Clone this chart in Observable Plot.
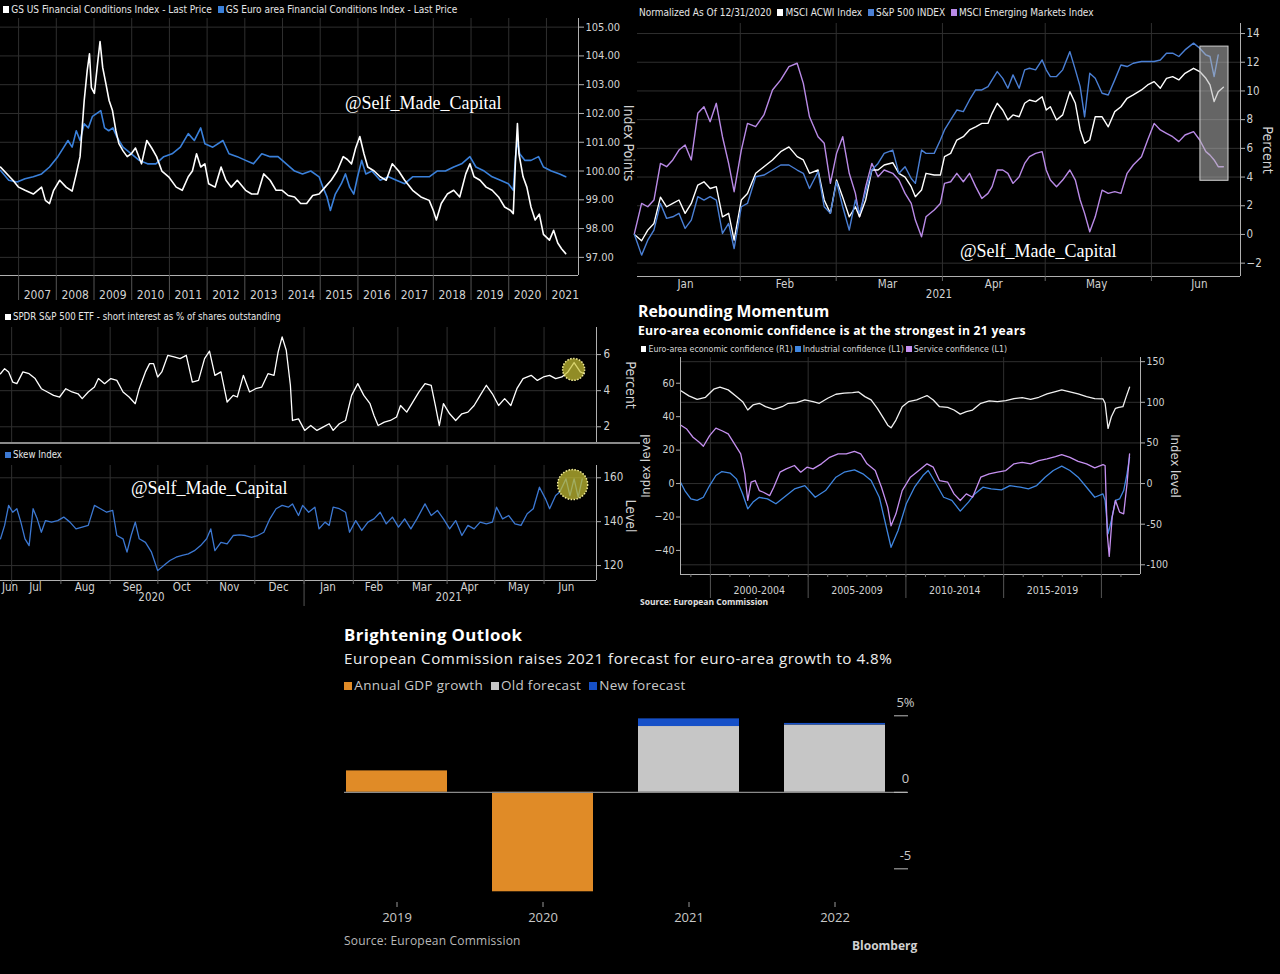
<!DOCTYPE html>
<html>
<head>
<meta charset="utf-8">
<script src="https://cdn.jsdelivr.net/npm/d3@7"></script>
<script src="https://cdn.jsdelivr.net/npm/@observablehq/plot@0.6"></script>
<style>
  html, body { margin: 0; padding: 0; background: #000; }
  #root { position: relative; width: 1280px; height: 974px; background: #000; overflow: hidden; }
  .t { position: absolute; white-space: nowrap; line-height: 1; }
  .n { font-family: "Liberation Sans Narrow", "DejaVu Sans Condensed", "Arial Narrow", sans-serif; }
  .s { font-family: "Open Sans", "Noto Sans", sans-serif; }
  .sq { display: inline-block; width: 0.62em; height: 0.62em; margin-right: 2px; }
  .wm { font-family: "Liberation Serif", "DejaVu Serif", serif; color: #fff; font-size: 18px; }
  .chart { position: absolute; }
  .chart svg { display: block; overflow: visible; }
</style>
</head>
<body>
<div id="root"></div>
<script>
// ---------------- DATA ----------------
// Panel 1: Goldman Sachs financial conditions indices (decimal years)
const usFciYear = [2006.52,2006.85,2007.00,2007.17,2007.39,2007.61,2007.71,2007.82,2007.93,2008.09,2008.26,2008.42,2008.53,2008.63,2008.74,2008.82,2008.88,2008.93,2009.01,2009.10,2009.16,2009.23,2009.32,2009.40,2009.49,2009.58,2009.66,2009.77,2009.88,2009.99,2010.10,2010.26,2010.40,2010.53,2010.66,2010.80,2010.98,2011.18,2011.34,2011.50,2011.61,2011.72,2011.83,2011.94,2012.04,2012.21,2012.37,2012.50,2012.64,2012.80,2013.02,2013.18,2013.34,2013.50,2013.67,2013.83,2013.99,2014.15,2014.32,2014.48,2014.64,2014.80,2014.97,2015.13,2015.29,2015.45,2015.61,2015.72,2015.83,2015.94,2016.05,2016.16,2016.26,2016.43,2016.59,2016.75,2016.91,2017.08,2017.24,2017.45,2017.67,2017.89,2018.00,2018.08,2018.21,2018.37,2018.54,2018.70,2018.86,2018.97,2019.08,2019.24,2019.40,2019.56,2019.73,2019.89,2020.05,2020.12,2020.18,2020.23,2020.27,2020.38,2020.48,2020.59,2020.70,2020.81,2020.92,2021.08,2021.19,2021.30,2021.40,2021.51];
const usFci = [100.14,99.68,99.44,99.33,99.2,99.44,98.98,98.87,99.33,99.68,99.44,99.3,99.9,100.5,102.45,103.5,104.07,102.9,102.7,103.8,104.5,103.6,103.0,102.45,102.1,101.4,100.95,100.7,100.5,100.6,100.8,100.25,101.06,100.8,100.5,100.0,99.8,99.44,99.33,99.8,100.0,100.6,100.14,100.25,99.56,99.44,100.14,99.68,99.44,99.68,99.33,99.2,99.2,99.9,99.68,99.33,99.33,99.15,99.1,98.87,98.87,99.15,99.2,99.44,99.68,100.0,100.5,100.4,100.25,100.8,101.2,100.6,100.14,100.0,99.8,99.68,100.25,100.0,99.68,99.33,99.1,98.98,98.63,98.3,98.87,99.2,99.33,99.1,99.9,100.25,99.8,99.68,99.44,99.33,99.1,98.75,98.63,98.52,100.4,101.65,100.6,99.8,99.44,98.75,98.3,98.5,97.8,97.6,97.94,97.5,97.3,97.13];
const euFciYear = [2006.52,2006.74,2006.96,2007.17,2007.39,2007.61,2007.82,2008.04,2008.20,2008.31,2008.42,2008.53,2008.63,2008.74,2008.85,2008.96,2009.18,2009.28,2009.39,2009.50,2009.61,2009.77,2009.99,2010.20,2010.42,2010.64,2010.85,2011.07,2011.29,2011.50,2011.66,2011.83,2011.94,2012.15,2012.42,2012.58,2012.80,2013.02,2013.23,2013.45,2013.67,2013.88,2014.10,2014.32,2014.53,2014.75,2014.97,2015.07,2015.18,2015.27,2015.40,2015.56,2015.67,2015.78,2015.89,2015.99,2016.10,2016.21,2016.37,2016.59,2016.81,2017.02,2017.24,2017.45,2017.67,2017.89,2018.10,2018.32,2018.54,2018.75,2018.97,2019.13,2019.35,2019.56,2019.78,2019.99,2020.12,2020.18,2020.23,2020.29,2020.43,2020.59,2020.79,2020.92,2021.13,2021.35,2021.51];
const euFci = [100.02,99.68,99.62,99.73,99.8,99.9,100.14,100.5,100.83,101.06,100.83,101.4,101.06,101.64,101.5,101.9,102.1,101.5,101.4,101.5,101.18,100.83,100.6,100.37,100.25,100.25,100.5,100.6,100.83,101.3,101.06,101.5,100.95,100.83,101.06,100.6,100.5,100.37,100.25,100.6,100.5,100.5,100.25,100.0,99.9,100.0,99.8,99.44,99.1,98.63,99.2,99.56,99.9,99.44,99.2,99.8,100.37,99.9,100.0,99.68,99.8,99.68,99.56,99.8,99.8,99.8,100.0,100.0,100.14,100.25,100.5,100.14,100.0,99.8,99.68,99.56,99.33,100.5,101.06,100.6,100.37,100.37,100.5,100.14,100.0,99.9,99.8];
const fciTicks = [97,98,99,100,101,102,103,104,105];
const fciYearStarts = [2007,2008,2009,2010,2011,2012,2013,2014,2015,2016,2017,2018,2019,2020,2021];
const fciYearLabels = ["2007","2008","2009","2010","2011","2012","2013","2014","2015","2016","2017","2018","2019","2020","2021"];
const fciXDomain = [2006.52, 2021.85];
const fciYDomain = [96.37, 105.3];

// Panel 2: normalized equity indices, days after 2020-12-31
const p2Days = [1.1,3.2,5.0,6.8,8.7,10.5,12.3,14.1,15.9,17.7,19.6,21.4,23.2,25.0,26.8,28.6,30.2,32.3,34.1,36.5,38.9,41.4,43.8,46.2,48.6,50.4,52.2,54.7,56.5,58.3,60.1,61.9,63.8,65.6,66.8,68.6,70.4,72.2,74.0,76.5,78.3,80.1,81.9,83.1,84.9,86.2,88.6,90.4,91.6,93.4,95.2,97.1,98.9,100.7,102.5,104.3,105.5,107.0,108.6,110.1,111.6,113.4,115.0,116.4,118.2,120.1,121.3,122.5,124.3,126.1,128.2,129.8,131.2,132.5,134.0,135.6,137.6,139.4,141.3,143.1,144.9,146.7,149.1,150.9,152.8,154.6,156.4,158.2,160.0,161.8,164.3,166.1,167.9,169.1,170.3,171.5,173.0];
const acwiPct = [0,-0.44,0.3,0.77,2.6,1.93,2.16,2.4,1.47,2.16,3.44,3.67,3.2,3.33,1.23,1.47,-0.4,2.4,2.86,4.26,4.72,5.19,5.77,6.1,5.42,5.19,4.26,4.49,2.4,1.47,3.8,2.6,1.23,1.93,1.23,2.4,4.49,4.49,4.84,5.0,4.26,4.0,3.33,2.63,3.1,4.26,4.14,4.14,5.42,5.65,6.58,6.81,7.28,7.5,7.74,7.74,8.44,9.14,8.67,7.98,8.33,8.2,9.14,9.37,9.26,9.6,8.67,8.9,7.98,8.33,9.95,9.14,7.28,6.35,6.58,8.2,8.2,7.5,8.56,8.9,9.49,9.72,10.07,10.42,10.65,10.19,10.88,11.0,10.77,11.23,11.58,11.35,10.88,10.42,9.26,9.95,10.26];
const spxPct = [0,-1.44,-0.4,0.3,2.16,1.12,1.23,1.47,0.42,1.0,2.63,2.4,2.63,2.4,0.07,0.77,-0.98,1.93,2.16,4.02,4.14,4.49,4.84,4.84,4.49,4.26,3.2,4.37,1.93,1.47,3.67,1.93,0.3,2.4,1.47,2.98,4.49,4.95,5.65,5.88,4.26,4.72,3.9,3.56,5.88,5.65,5.65,6.58,7.28,7.98,8.67,8.56,9.37,10.07,10.07,10.3,10.77,11.35,10.88,10.19,11.12,10.19,11.47,11.58,11.47,12.16,11.47,11.0,11.0,11.47,12.74,11.47,10.3,8.2,11.23,10.88,9.84,9.72,10.77,11.81,11.7,11.93,12.05,12.05,12.05,12.16,12.63,12.63,12.4,12.86,13.33,12.98,12.51,12.4,11.0,12.51,null];
const emPct = [0.07,2.16,1.93,2.4,4.95,4.72,5.19,5.88,6.23,5.19,8.44,8.9,7.86,9.14,6.81,4.95,2.98,5.88,7.74,7.51,8.33,10.07,10.77,11.7,11.93,10.53,8.2,6.81,6.35,3.56,5.65,6.81,4.26,2.86,1.23,3.33,4.95,4.02,4.49,4.26,3.79,2.86,2.16,1.0,-0.16,1.23,1.7,2.16,3.56,3.67,4.26,3.67,4.26,3.33,2.51,2.86,3.33,4.49,4.49,4.26,3.56,4.02,4.95,5.42,5.65,5.77,4.49,3.79,3.33,3.79,4.49,3.79,2.4,1.47,0.19,1.23,3.09,2.86,2.98,2.86,4.26,4.84,5.42,6.58,7.74,7.28,7.05,6.81,6.47,6.93,7.16,6.58,5.77,5.53,5.19,4.72,4.72];
const p2Highlight = [{dayFrom: 166.3, dayTo: 174.5, low: 3.74, high: 13.09}];
const p2Ticks = [-2,0,2,4,6,8,10,12,14];
const p2MonthStarts = ["2021-02-01","2021-03-01","2021-04-01","2021-05-01","2021-06-01"];
const p2MonthMids = ["2021-01-16","2021-02-14","2021-03-16","2021-04-16","2021-05-16","2021-06-15"];
const p2XDomain = ["2021-01-02","2021-06-27"];
const p2YDomain = [-2.93, 14.7];

// Panel 3: SPDR short interest and Skew, days after 2020-06-24
const spdrDay = [0,2.6,5.1,7.7,10.3,14.1,18.0,21.8,25.7,29.5,33.4,37.2,41.1,45.0,48.8,51.4,55.2,59.1,61.6,65.5,69.4,73.2,77.1,80.9,84.8,87.3,91.2,93.8,96.3,98.9,101.5,105.3,109.2,113.0,116.9,120.7,124.6,128.4,131.5,134.9,138.7,142.6,146.4,149.0,152.8,156.7,160.5,164.4,168.3,172.1,174.7,177.2,179.8,182.4,183.7,187.5,191.4,195.2,199.1,202.9,206.8,209.3,213.2,217.1,220.9,224.8,228.6,232.5,235.0,237.6,241.5,245.3,249.2,251.7,255.6,259.4,263.3,267.1,271.0,273.6,276.1,278.7,282.6,286.4,290.3,294.1,298.0,301.8,305.7,309.5,313.4,317.2,321.1,324.9,328.8,333.9,337.8,341.6,345.5,349.3,353.2,357.0,360.9,364.8,367.3];
const spdrPct = [4.94,5.22,5.04,4.48,4.39,5.04,4.94,4.67,4.11,3.93,3.74,3.65,4.11,3.93,3.83,3.56,3.93,4.2,4.67,4.39,4.67,4.57,3.93,3.65,3.28,4.11,5.04,5.5,5.5,4.76,5.04,5.96,5.87,5.78,5.96,4.48,4.57,5.78,6.19,4.85,5.04,3.37,3.74,3.65,4.85,3.93,4.11,4.2,4.94,4.85,6.15,6.98,6.24,4.3,2.35,2.44,1.8,2.07,1.8,1.98,2.17,1.8,2.17,2.35,3.74,4.39,3.74,3.28,2.63,2.07,2.26,2.35,2.54,3.18,2.81,3.37,3.93,4.39,4.3,3.18,2.07,3.28,2.72,2.35,2.72,2.81,3.18,3.74,4.3,3.83,3.18,3.56,3.18,4.11,4.67,4.85,4.57,4.76,4.85,4.67,4.76,5.04,5.56,5.04,4.94];
const skewDay = [0,2.6,5.1,7.7,10.3,12.8,15.4,18.0,20.5,23.1,25.7,28.3,32.1,36.0,39.8,43.7,47.5,51.4,55.2,59.1,62.9,66.8,70.6,73.2,77.1,79.6,82.2,84.8,87.3,91.2,95.0,98.9,102.7,106.6,110.5,114.3,118.2,122.0,125.9,129.7,132.3,134.9,138.7,142.6,146.4,150.3,154.1,158.0,161.8,165.7,169.5,173.4,177.2,181.1,183.7,187.5,190.1,193.9,197.8,200.4,204.2,206.8,209.3,213.2,217.1,219.6,223.5,227.3,231.2,235.0,238.9,242.7,246.6,250.4,254.3,258.2,262.0,267.1,271.0,274.9,278.7,282.6,286.4,290.3,294.1,298.0,301.8,305.7,309.5,312.1,315.9,319.8,323.7,327.5,331.4,335.2,339.1,342.9,345.5,349.3,351.9,355.8,358.3,360.9,363.5,366.0];
const skewLevel = [132.2,138.3,147.4,144.3,145.9,139.8,132.2,129.1,145.9,141.3,135.2,140.5,139.8,140.5,142.1,139.8,136.7,137.5,138.3,147.4,145.9,144.3,145.1,133.7,132.2,126.1,133.7,139.8,132.2,130.6,126.1,117.7,120.0,122.3,123.8,124.6,125.3,126.8,129.1,132.2,136.7,126.8,130.6,129.9,133.7,134.0,133.7,132.9,133.7,135.2,141.3,145.9,147.4,146.6,148.1,142.8,147.4,144.3,146.6,136.7,139.8,138.3,146.6,145.9,144.3,135.2,140.5,136.0,139.8,141.3,144.3,139.0,142.1,137.5,141.3,136.7,141.3,148.1,142.8,145.1,141.3,136.7,140.5,133.7,138.3,136.7,139.8,139.0,139.8,146.6,141.3,142.8,139.0,138.3,143.6,145.9,155.7,150.4,145.9,151.9,153.5,159.5,151.9,159.5,151.2,159.5];
const spdrHighlight = [{day: 360.6, value: 5.18}];
const skewHighlight = [{day: 360.0, value: 156.9}];
const p3XDomain = ["2020-06-24","2021-07-04"];
const spdrYDomain = [1.13, 7.5];
const skewYDomain = [113.2, 165.6];
const spdrTicks = [2,4,6];
const skewTicks = [120,140,160];
const p3MonthStarts = ["2020-07-01","2020-08-01","2020-09-01","2020-10-01","2020-11-01","2020-12-01","2021-01-01","2021-02-01","2021-03-01","2021-04-01","2021-05-01","2021-06-01"];
const p3MonthMids = ["2020-06-30","2020-07-16","2020-08-16","2020-09-15","2020-10-16","2020-11-15","2020-12-16","2021-01-16","2021-02-14","2021-03-16","2021-04-15","2021-05-16","2021-06-15"];
const p3YearMarks = [{date: "2020-09-27", label: "2020"}, {date: "2021-04-02", label: "2021"}];
const p3YearBreak = ["2021-01-01"];

// Panel 4: euro-area confidence (decimal years)
const esiYear = [1998.47,1998.9,1999.32,1999.75,2000.17,2000.49,2000.91,2001.33,2001.65,2001.91,2002.18,2002.5,2002.82,2003.24,2003.67,2003.98,2004.41,2004.83,2005.25,2005.57,2006.0,2006.42,2006.84,2007.27,2007.58,2007.9,2008.22,2008.54,2008.86,2009.07,2009.24,2009.49,2009.81,2010.13,2010.55,2010.87,2011.08,2011.4,2011.72,2012.14,2012.46,2012.78,2013.09,2013.41,2013.83,2014.26,2014.68,2015.11,2015.53,2015.95,2016.38,2016.8,2017.22,2017.65,2017.97,2018.39,2018.81,2019.24,2019.66,2020.08,2020.19,2020.34,2020.51,2020.72,2020.89,2021.1,2021.27,2021.44];
const esiLevel = [114.5,107.9,103.7,106.2,116.1,118.6,115.3,107.0,100.8,90.5,96.7,98.8,94.6,91.3,94.6,98.8,99.6,102.9,100.8,98.8,105.0,109.9,111.2,112.0,112.8,107.0,102.9,92.6,80.2,71.9,68.6,78.1,94.6,100.8,102.9,106.2,108.3,102.9,94.6,93.8,90.5,85.5,88.4,90.5,98.8,101.7,100.8,102.1,104.5,105.8,103.7,106.2,110.3,113.2,115.3,112.8,110.3,107.0,104.5,104.1,98.8,67.8,82.2,92.6,93.8,94.6,107.0,118.6];
const indYear = [1998.47,1998.69,1999.00,1999.32,1999.64,1999.96,2000.28,2000.59,2001.02,2001.33,2001.65,2001.91,2002.18,2002.50,2002.92,2003.35,2003.77,2004.30,2004.83,2005.36,2005.89,2006.42,2006.84,2007.37,2007.80,2008.22,2008.64,2008.96,2009.24,2009.60,2010.02,2010.44,2010.87,2011.14,2011.50,2011.93,2012.35,2012.78,2013.20,2013.52,2013.94,2014.36,2014.89,2015.32,2015.85,2016.27,2016.69,2017.12,2017.54,2017.97,2018.39,2018.81,2019.24,2019.66,2020.08,2020.19,2020.34,2020.51,2020.72,2020.93,2021.14,2021.31,2021.44];
const indLevel = [0.8,-4.2,-9.2,-10.1,-8.2,-1.2,4.8,7.2,6.2,2.8,-6.2,-15.1,-11.1,-8.2,-9.2,-12.1,-8.2,-3.2,-1.2,-8.2,-4.2,3.8,6.8,8.2,5.8,1.8,-8.2,-24.1,-38.1,-28.1,-12.1,-2.2,4.8,7.8,0.8,-8.2,-10.1,-16.5,-11.1,-6.2,-2.2,-3.2,-3.8,-1.2,-2.2,-3.2,-1.2,3.8,7.8,10.4,7.8,3.8,-2.2,-8.2,-6.2,-10.1,-30.1,-22.1,-10.1,-9.2,-4.2,5.8,15.7];
const srvYear = [1998.47,1998.79,1999.11,1999.43,1999.64,1999.96,2000.28,2000.59,2000.91,2001.23,2001.55,2001.76,2001.91,2002.08,2002.29,2002.50,2002.71,2003.03,2003.24,2003.56,2003.88,2004.30,2004.62,2004.94,2005.25,2005.68,2006.10,2006.53,2006.95,2007.37,2007.69,2008.01,2008.43,2008.75,2009.07,2009.24,2009.49,2009.81,2010.23,2010.66,2011.08,2011.40,2011.72,2012.14,2012.46,2012.78,2013.09,2013.41,2013.83,2014.26,2014.68,2015.11,2015.53,2015.95,2016.38,2016.80,2017.22,2017.65,2017.97,2018.39,2018.81,2019.24,2019.66,2020.08,2020.19,2020.30,2020.40,2020.55,2020.72,2020.93,2021.14,2021.31,2021.44];
const srvLevel = [35.0,32.6,27.7,24.7,22.3,28.7,33.2,31.6,29.7,23.7,17.7,5.8,-10.1,0.8,1.8,-4.2,-5.2,-7.2,-2.2,6.8,8.8,10.8,6.8,9.8,8.8,11.8,15.7,17.7,17.7,19.3,17.7,11.8,7.8,-2.2,-14.1,-25.3,-18.1,-4.2,3.8,7.8,11.8,9.8,1.8,0.8,-6.2,-10.1,-6.2,-8.2,3.8,5.8,6.8,7.8,11.8,12.7,11.8,13.7,14.7,16.1,17.3,15.7,13.3,11.8,9.4,11.3,10.8,-30.1,-43.6,-20.1,-10.1,-17.1,-18.1,-0.2,17.7];
const confLeftTicks = [-40,-20,0,20,40,60];
const confRightTicks = [-100,-50,0,50,100,150];
const confPeriodStarts = [2000,2005,2010,2015,2020];
const confPeriodMids = [2002.5,2007.5,2012.5,2017.5];
const confPeriodLabels = ["2000-2004","2005-2009","2010-2014","2015-2019"];
const confYearTicks = [1999,2000,2001,2002,2003,2004,2005,2006,2007,2008,2009,2010,2011,2012,2013,2014,2015,2016,2017,2018,2019,2020,2021];
const confXDomain = [1998.47, 2022.0];
const confYDomain = [-54.4, 75.4];
const esiPerLeft = 0.486; // right-axis unit expressed in left-axis units

// Panel 5: euro-area GDP growth (%)
const gdpYears = ["2019","2020","2021","2022"];
const gdpActual = [1.4, -6.5, null, null];
const gdpOld = [null, null, 4.3, 4.4];
const gdpNew = [null, null, 4.8, 4.5];
const gdpTicks = [5, 0, -5];
const gdpTickText = ["5%", "0", "-5"];

// ---------------- HELPERS ----------------
const root = document.getElementById("root");
const FN = '"Liberation Sans Narrow","DejaVu Sans Condensed","Arial Narrow",sans-serif';
const FS = '"Open Sans","Noto Sans",sans-serif';
const GRID = "#2f2f2f";
const AXIS = "#b0b0b0";
const TXT = "#d2d2d2";
function put(svg, left, top, width) {
  const d = document.createElement("div");
  d.className = "chart";
  d.style.left = left + "px"; d.style.top = top + "px"; d.style.width = width + "px";
  d.appendChild(svg); root.appendChild(d);
}
function txt(html, left, cy, size, cls, color, weight, extra) {
  const d = document.createElement("div");
  d.className = "t " + cls;
  d.style.left = left + "px";
  d.style.top = (cy - size * 0.55) + "px";
  d.style.fontSize = size + "px";
  d.style.color = color;
  if (weight) d.style.fontWeight = weight;
  if (extra) Object.assign(d.style, extra);
  d.innerHTML = html;
  root.appendChild(d);
}
const sq = c => `<span class="sq" style="background:${c}"></span>`;
const utc = s => new Date(s + "T00:00:00Z");
const DAY = 864e5;
const base2 = Date.UTC(2020, 11, 31);
const base3 = Date.UTC(2020, 5, 24);
const blank = () => "";

// ---------------- PANEL 1 ----------------
const usRows = usFciYear.map((x, i) => ({x, y: usFci[i]})).filter(d => d.y != null);
const euRows = euFciYear.map((x, i) => ({x, y: euFci[i]})).filter(d => d.y != null);
put(Plot.plot({
  width: 640, height: 290, marginLeft: 0, marginRight: 62, marginTop: 0, marginBottom: 33,
  style: {background: "transparent", color: TXT, fontFamily: FN, fontSize: "11px"},
  x: {domain: fciXDomain},
  y: {domain: fciYDomain},
  marks: [
    Plot.gridY(fciTicks, {stroke: GRID, strokeOpacity: 1}),
    Plot.gridX(fciYearStarts, {stroke: GRID, strokeOpacity: 1}),
    Plot.line(euRows, {x: "x", y: "y", stroke: "#3a80da", strokeWidth: 1.6}),
    Plot.line(usRows, {x: "x", y: "y", stroke: "#ffffff", strokeWidth: 1.6}),
    Plot.ruleX([fciXDomain[1]], {stroke: AXIS}),
    Plot.ruleY([fciYDomain[0]], {stroke: AXIS}),
    Plot.axisY(fciTicks, {anchor: "right", tickSize: 5, tickPadding: 2, tickFormat: d => d.toFixed(2), label: null, stroke: AXIS}),
    Plot.axisX(fciYearStarts, {tickSize: 25, tickFormat: blank, label: null, stroke: "#555"}),
    Plot.axisX(fciYearStarts.map(y => y + 0.5), {tickSize: 0, tickPadding: 15, tickFormat: (d) => fciYearLabels[fciYearStarts.indexOf(d - 0.5)], label: null, fontSize: 12}),
    Plot.text(["Index Points"], {frameAnchor: "right", textAnchor: "middle", text: d => d, rotate: 90, dx: 50, dy: -4, fontSize: 14, fill: TXT})
  ]
}), 0, 18, 640);
txt(`${sq("#fff")}GS US Financial Conditions Index - Last Price&nbsp;&nbsp;${sq("#3a80da")}GS Euro area Financial Conditions Index - Last Price`, 3, 10, 10, "n", "#e6e6e6");
txt("@Self_Made_Capital", 345, 104, 18, "wm", "#fff");

// ---------------- PANEL 2 ----------------
const p2Rows = p2Days.map((d, i) => ({date: new Date(base2 + d * DAY), acwi: acwiPct[i], spx: spxPct[i], em: emPct[i]}));
put(Plot.plot({
  width: 650, height: 290, marginLeft: 7, marginRight: 40, marginTop: 5, marginBottom: 32,
  style: {background: "transparent", color: TXT, fontFamily: FN, fontSize: "11.5px"},
  x: {type: "utc", domain: p2XDomain.map(utc)},
  y: {domain: p2YDomain},
  marks: [
    Plot.gridY(p2Ticks, {stroke: GRID, strokeOpacity: 1}),
    Plot.gridX(p2MonthStarts.map(utc), {stroke: GRID, strokeOpacity: 1}),
    Plot.line(p2Rows, {x: "date", y: "em", stroke: "#b98ae6", strokeWidth: 1.4}),
    Plot.line(p2Rows, {x: "date", y: "acwi", stroke: "#ffffff", strokeWidth: 1.4}),
    Plot.line(p2Rows, {x: "date", y: "spx", stroke: "#4a7fd4", strokeWidth: 1.4}),
    Plot.rect(p2Highlight, {x1: d => new Date(base2 + d.dayFrom * DAY), x2: d => new Date(base2 + d.dayTo * DAY), y1: "low", y2: "high", fill: "#b8b8b8", fillOpacity: 0.55, stroke: "#d0d0d0", strokeWidth: 1}),
    Plot.ruleX([utc(p2XDomain[1])], {stroke: AXIS}),
    Plot.ruleY([p2YDomain[0]], {stroke: AXIS}),
    Plot.axisY(p2Ticks, {anchor: "right", tickSize: 4, tickPadding: 2, label: null, stroke: AXIS}),
    Plot.axisX(p2MonthStarts.map(utc), {tickSize: 5, tickFormat: blank, label: null, stroke: "#666"}),
    Plot.axisX(p2MonthMids.map(utc), {tickSize: 0, tickPadding: 3, tickFormat: d3.utcFormat("%b"), label: null}),
    Plot.text(["2021"], {frameAnchor: "bottom", text: d => d, dy: 21, fill: TXT, fontSize: 11.5}),
    Plot.text(["Percent"], {frameAnchor: "right", textAnchor: "middle", text: d => d, rotate: 90, dx: 27, fontSize: 14, fill: TXT})
  ]
}), 630, 18, 650);
txt(`Normalized As Of 12/31/2020&nbsp;&nbsp;${sq("#fff")}MSCI ACWI Index&nbsp;&nbsp;${sq("#4a7fd4")}S&amp;P 500 INDEX&nbsp;&nbsp;${sq("#b98ae6")}MSCI Emerging Markets Index`, 639, 13, 10, "n", "#e6e6e6");
txt("@Self_Made_Capital", 960, 252, 18, "wm", "#fff");

// ---------------- PANEL 3 ----------------
const spdrRows = spdrDay.map((d, i) => ({date: new Date(base3 + d * DAY), v: spdrPct[i]}));
const skewRows = skewDay.map((d, i) => ({date: new Date(base3 + d * DAY), v: skewLevel[i]}));
put(Plot.plot({
  width: 640, height: 125, marginLeft: 0, marginRight: 44, marginTop: 7, marginBottom: 3,
  style: {background: "transparent", color: TXT, fontFamily: FN, fontSize: "11.5px"},
  x: {type: "utc", domain: p3XDomain.map(utc), axis: null}, y: {domain: spdrYDomain},
  marks: [
    Plot.gridY(spdrTicks, {stroke: GRID, strokeOpacity: 1}),
    Plot.gridX(p3MonthStarts.map(utc), {stroke: GRID, strokeOpacity: 1}),
    Plot.line(spdrRows, {x: "date", y: "v", stroke: "#ffffff", strokeWidth: 1.3}),
    Plot.dot(spdrHighlight, {x: d => new Date(base3 + d.day * DAY), y: "value", r: 11, fill: "#c9c235", fillOpacity: 0.72, stroke: "#f2ec9a", strokeDasharray: "1.5,1.5"}),
    Plot.ruleX([utc(p3XDomain[1])], {stroke: AXIS}),
    Plot.axisY(spdrTicks, {anchor: "right", tickSize: 4, tickPadding: 3, label: null, stroke: AXIS}),
    Plot.text(["Percent"], {frameAnchor: "right", textAnchor: "middle", text: d => d, rotate: 90, dx: 34, fontSize: 14, fill: TXT})
  ]
}), 0, 320, 640);
const sep = document.createElement("div");
Object.assign(sep.style, {position: "absolute", left: "0px", top: "442px", width: "640px", height: "2px", background: "#8a8a8a"});
root.appendChild(sep);
put(Plot.plot({
  width: 640, height: 150, marginLeft: 0, marginRight: 44, marginTop: 5, marginBottom: 30,
  style: {background: "transparent", color: TXT, fontFamily: FN, fontSize: "11.5px"},
  x: {type: "utc", domain: p3XDomain.map(utc)}, y: {domain: skewYDomain},
  marks: [
    Plot.gridY(skewTicks, {stroke: GRID, strokeOpacity: 1}),
    Plot.gridX(p3MonthStarts.map(utc), {stroke: GRID, strokeOpacity: 1}),
    Plot.line(skewRows, {x: "date", y: "v", stroke: "#3c78d2", strokeWidth: 1.3}),
    Plot.dot(skewHighlight, {x: d => new Date(base3 + d.day * DAY), y: "value", r: 15, fill: "#c9c235", fillOpacity: 0.72, stroke: "#f2ec9a", strokeDasharray: "1.5,1.5"}),
    Plot.ruleX([utc(p3XDomain[1])], {stroke: AXIS}),
    Plot.ruleY([skewYDomain[0]], {stroke: AXIS}),
    Plot.axisY(skewTicks, {anchor: "right", tickSize: 4, tickPadding: 3, label: null, stroke: AXIS}),
    Plot.axisX(p3MonthStarts.map(utc), {tickSize: 4, tickFormat: blank, label: null, stroke: "#666"}),
    Plot.axisX(p3YearBreak.map(utc), {tickSize: 26, tickFormat: blank, label: null, stroke: "#555"}),
    Plot.axisX(p3MonthMids.map(utc), {tickSize: 0, tickPadding: 2, tickFormat: d3.utcFormat("%b"), label: null}),
    Plot.text(p3YearMarks, {x: d => utc(d.date), text: "label", frameAnchor: "bottom", dy: 20, fill: TXT, fontSize: 11.5}),
    Plot.text(["Level"], {frameAnchor: "right", textAnchor: "middle", text: d => d, rotate: 90, dx: 34, dy: -7, fontSize: 14, fill: TXT})
  ]
}), 0, 460, 640);
txt(`${sq("#fff")}SPDR S&amp;P 500 ETF - short interest as % of shares outstanding`, 5, 317, 9.6, "n", "#e6e6e6");
txt(`${sq("#3c78d2")}Skew Index`, 5, 455, 9.6, "n", "#e6e6e6");
txt("@Self_Made_Capital", 131, 489, 18, "wm", "#fff");

// ---------------- PANEL 4 ----------------
const esiRows = esiYear.map((x, i) => ({x, y: esiLevel[i] * esiPerLeft}));
const indRows = indYear.map((x, i) => ({x, y: indLevel[i]}));
const srvRows = srvYear.map((x, i) => ({x, y: srvLevel[i]}));
const rightPos = confRightTicks.map(v => v * esiPerLeft);
put(Plot.plot({
  width: 650, height: 255, marginLeft: 50, marginRight: 140, marginTop: 5, marginBottom: 33,
  style: {background: "transparent", color: TXT, fontFamily: FN, fontSize: "10.5px"},
  x: {domain: confXDomain}, y: {domain: confYDomain},
  marks: [
    Plot.gridY(rightPos, {stroke: GRID, strokeOpacity: 1}),
    Plot.gridX(confPeriodStarts, {stroke: GRID, strokeOpacity: 1}),
    Plot.line(indRows, {x: "x", y: "y", stroke: "#3f86e0", strokeWidth: 1.3}),
    Plot.line(srvRows, {x: "x", y: "y", stroke: "#c590f0", strokeWidth: 1.3}),
    Plot.line(esiRows, {x: "x", y: "y", stroke: "#f0f0f0", strokeWidth: 1.3}),
    Plot.ruleX([confXDomain[0]], {stroke: AXIS}),
    Plot.ruleX([confXDomain[1]], {stroke: AXIS}),
    Plot.ruleY([confYDomain[0]], {stroke: AXIS}),
    Plot.axisY(confLeftTicks, {anchor: "left", tickSize: 4, tickPadding: 2, label: null, stroke: AXIS}),
    Plot.axisY(rightPos, {anchor: "right", tickSize: 4, tickPadding: 2, label: null, stroke: AXIS, tickFormat: d => String(Math.round(d / esiPerLeft))}),
    Plot.axisX(confYearTicks, {tickSize: 3, tickFormat: blank, label: null, stroke: "#777"}),
    Plot.axisX(confPeriodStarts, {tickSize: 24, tickFormat: blank, label: null, stroke: "#555"}),
    Plot.axisX(confPeriodMids, {tickSize: 0, tickPadding: 12, label: null, tickFormat: d => confPeriodLabels[confPeriodMids.indexOf(d)]}),
    Plot.text(["Index level"], {frameAnchor: "left", textAnchor: "middle", text: d => d, rotate: -90, dx: -35, fontSize: 13, fill: TXT}),
    Plot.text(["Index level"], {frameAnchor: "right", textAnchor: "middle", text: d => d, rotate: 90, dx: 35, fontSize: 13, fill: TXT})
  ]
}), 630, 352, 650);
txt("Rebounding Momentum", 638, 312.5, 15.8, "s", "#ffffff", 700);
txt("Euro-area economic confidence is at the strongest in 21 years", 638, 332, 12.2, "s", "#ffffff", 700, {letterSpacing: "0.25px"});
txt(`${sq("#fff")}Euro-area economic confidence (R1) ${sq("#3f86e0")}Industrial confidence (L1) ${sq("#c590f0")}Service confidence (L1)`, 641, 349.5, 8.8, "n", "#d8d8d8");
txt("Source: European Commission", 640, 603, 8.5, "s", "#e0e0e0", 700);

// ---------------- PANEL 5 ----------------
const gdpRows = gdpYears.map((year, i) => ({year, actual: gdpActual[i], old: gdpOld[i], next: gdpNew[i]}));
put(Plot.plot({
  width: 590, height: 243, marginLeft: 0, marginRight: 27, marginTop: 10, marginBottom: 31,
  style: {background: "transparent", color: "#c8c8c8", fontFamily: FS, fontSize: "13px"},
  x: {type: "band", domain: gdpYears, range: [0, 543], paddingInner: 0.306, paddingOuter: 0},
  y: {domain: [-7.2, 6]},
  marks: [
    Plot.barY(gdpRows.filter(d => d.actual != null), {x: "year", y: "actual", fill: "#e08b27"}),
    Plot.barY(gdpRows.filter(d => d.old != null), {x: "year", y: "old", fill: "#c6c6c6"}),
    Plot.barY(gdpRows.filter(d => d.next != null), {x: "year", y1: "old", y2: "next", fill: "#1650c8"}),
    Plot.ruleY([0], {stroke: "#8a8a8a", strokeWidth: 1.2}),
    Plot.axisY(gdpTicks, {anchor: "right", tickSize: 14, dx: -14, tickFormat: blank, label: null, stroke: "#bbb"}),
    Plot.text(gdpTicks, {y: d => d, text: d => gdpTickText[gdpTicks.indexOf(d)], frameAnchor: "right", textAnchor: "middle", dx: -2, dy: -13, fill: "#c8c8c8", fontSize: 13}),
    Plot.axisX({tickSize: 5, tickPadding: 5, label: null, stroke: "#999"})
  ]
}), 344, 690, 590);
txt("Brightening Outlook", 344, 636.5, 16.8, "s", "#ffffff", 700, {letterSpacing: "0.4px"});
txt("European Commission raises 2021 forecast for euro-area growth to 4.8%", 344, 659, 15.2, "s", "#ececec", null, {letterSpacing: "0.5px"});
txt(`${sq("#e08b27")}Annual GDP growth&nbsp;&nbsp;${sq("#c6c6c6")}Old forecast&nbsp;&nbsp;${sq("#1650c8")}New forecast`, 344, 686.5, 13.5, "s", "#c8c8c8", null, {letterSpacing: "0.3px"});
txt("Source: European Commission", 344, 942, 12, "s", "#b8b8b8", null, {letterSpacing: "0.2px"});
txt("Bloomberg", 852, 947, 12, "s", "#d0d0d0", 700);
</script>
</body>
</html>
